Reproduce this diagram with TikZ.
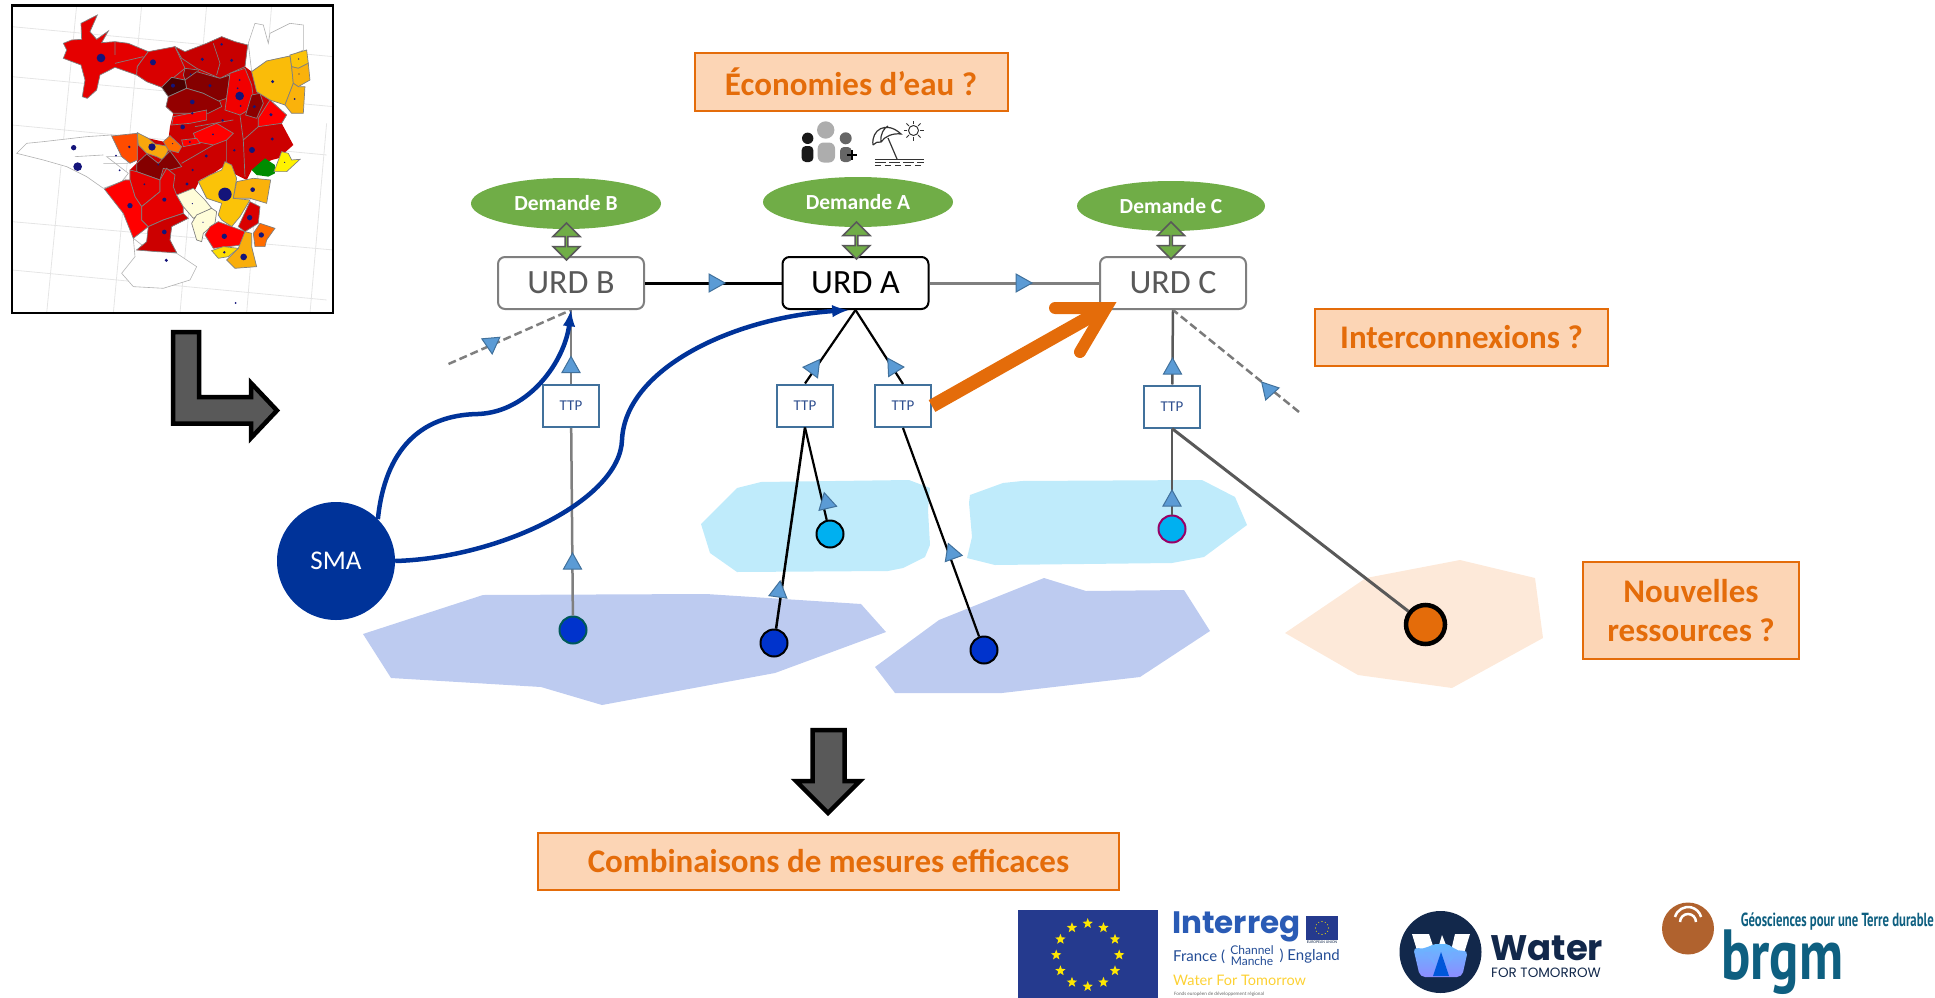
\documentclass[tikz,border=0pt]{standalone}
\usepackage{fontspec}
\setmainfont{Carlito}
\newfontfamily\logofont{Poppins}
\newfontfamily\logotext{Lato}
\newfontfamily\brgmfont{PT Sans}
\usepackage{tikz}
\usetikzlibrary{arrows}
\usetikzlibrary{shapes.geometric, shapes.arrows}
\definecolor{peachfill}{HTML}{FCD5B5}
\definecolor{orangeline}{HTML}{E46C0A}
\definecolor{greendem}{HTML}{70AD47}
\definecolor{bluesma}{HTML}{003399}
\definecolor{tipblue}{HTML}{5B9BD5}
\definecolor{tipedge}{HTML}{41719C}
\definecolor{ttptext}{HTML}{2F4F8F}
\definecolor{polydark}{HTML}{BDCBF0}
\definecolor{polylight}{HTML}{BFEBFB}
\definecolor{polypeach}{HTML}{FDE9D9}
\definecolor{welldark}{HTML}{0033CC}
\definecolor{welllight}{HTML}{00B0F0}
\definecolor{greyline}{HTML}{7F7F7F}
\definecolor{greytext}{HTML}{595959}
\definecolor{navylogo}{HTML}{12284B}
\definecolor{navydot}{HTML}{14147A}
\definecolor{eublue}{HTML}{253A8E}
\definecolor{interblue}{HTML}{2A5BB5}
\definecolor{brgmblue}{HTML}{0E5F80}
\definecolor{brgmbrown}{HTML}{B0622E}
\tikzstyle{question}=[draw=orangeline, fill=peachfill, text=orangeline, line width=2, inner sep=0, align=center, font=\fontsize{33}{39}\selectfont\bfseries]
\tikzstyle{demand}=[ellipse, fill=greendem, text=white, inner sep=0, font=\fontsize{21.5}{24}\selectfont\bfseries]
\tikzstyle{demarrow}=[double arrow, draw=greytext, fill=greendem, line width=1.5, inner sep=0, minimum width=27, minimum height=37, double arrow head extend=7, rotate=90]
\tikzstyle{urd}=[draw=greyline, rounded corners=7, fill=white, text=greytext, line width=2, minimum width=146, minimum height=52, inner sep=0, font=\fontsize{34}{40}\selectfont]
\tikzstyle{ttp}=[draw=tipedge, fill=white, text=ttptext, line width=2, minimum width=56, minimum height=42, inner sep=0, font=\fontsize{15}{18}\selectfont]
\tikzstyle{well}=[circle, draw=black, line width=2, minimum size=27, inner sep=0]
\tikzstyle{flowtip}=[draw=tipedge, fill=tipblue, line width=1]
\tikzstyle{bigarrow}=[draw=black, fill=greytext, line width=4.5, miter limit=10]
\tikzstyle{region}=[draw=black!50, line width=.7]
\tikzstyle{outline}=[draw=black!30, line width=.6]
\newcommand{\flowmark}[3]{\filldraw[flowtip, shift={(#1,#2)}, rotate=#3] (8pt,0pt) -- (-8pt,9pt) -- (-8pt,-9pt) -- cycle;}
\begin{document}
\begin{tikzpicture}[x=1pt, y=-1pt]
    \useasboundingbox (0,0) rectangle (1935,998);
    % map
    \begin{scope}[x=.3333pt, y=-.3333pt]
    \foreach \a/\b/\c/\d in {230/16/140/940, 425/16/340/940, 620/16/540/940, 815/16/740/940, 980/370/930/940, 36/80/1000/170, 36/230/1000/320, 36/375/980/465, 36/665/1000/750, 36/810/980/900}
        \draw[black!10, line width=.8] (\a,\b) -- (\c,\d);
    \filldraw[outline, fill=white] plot coordinates {(745,130) (765,70) (790,75) (805,130) (810,100) (870,70) (910,75) (910,150) (870,168) (800,183) (755,215)} -- cycle;
    \filldraw[outline, fill=white] plot coordinates {(50,460) (80,430) (130,425) (260,410) (335,405) (365,470) (320,470) (385,520) (365,545) (310,565) (260,530) (200,500) (130,480)} -- cycle;
    \draw[outline] (225,470) -- (310,465) (310,490) -- (385,490);
    \filldraw[outline, fill=white] plot coordinates {(400,715) (405,770) (365,820) (400,860) (490,865) (570,840) (590,800) (530,760) (445,750)} -- cycle;
    \fill[red!80!black] plot coordinates {(445,155) (525,140) (555,155) (620,130) (665,110) (705,125) (743,135) (735,200) (755,215) (770,275) (810,300) (860,345) (845,370) (880,435) (835,475) (815,480) (755,510) (740,540) (700,520) (685,490) (640,520) (600,540) (585,570) (550,585) (530,585) (535,610) (550,640) (565,655) (515,680) (510,720) (530,758) (410,750) (440,725) (445,680) (425,660) (425,620) (405,590) (390,540) (390,510) (410,490) (412,480) (412,400) (445,415) (490,425) (505,420) (510,380) (520,340) (498,320) (505,290) (485,262) (440,245) (410,225) (412,200) (430,175)} -- cycle;
    \filldraw[region, fill=red!90!black] plot coordinates {(190,130) (215,120) (245,118) (243,70) (292,45) (270,95) (290,118) (325,93) (305,128) (345,125) (385,130) (445,155) (430,175) (412,200) (410,225) (345,202) (300,225) (290,270) (262,295) (247,290) (255,240) (243,195) (190,175) (200,150)} -- cycle;
    \draw[region] (345,125) -- (345,165) (345,190) -- (430,170);
    \filldraw[region, fill=red!85!black] plot coordinates {(445,155) (525,140) (555,205) (485,262) (440,245) (410,225) (412,200) (430,175)} -- cycle;
    \filldraw[region, fill=red!78!black] plot coordinates {(525,140) (545,175) (590,205) (660,235) (690,220) (735,200) (743,135) (705,125) (665,110) (620,130) (555,155)} -- cycle;
    \draw[region] (640,130) -- (660,190) -- (650,225);
    \filldraw[region, fill=red!55!black] plot coordinates {(555,205) (595,210) (590,235) (555,240) (550,225)} -- cycle;
    \filldraw[region, fill=red!52!black] plot coordinates {(555,240) (590,215) (660,235) (690,225) (680,295) (650,305) (610,280) (560,265)} -- cycle;
    \filldraw[region, fill=red!30!black] plot coordinates {(485,262) (515,232) (555,240) (560,265) (505,290)} -- cycle;
    \filldraw[region, fill=red!58!black] plot coordinates {(505,290) (560,265) (610,280) (660,305) (665,320) (625,340) (520,340) (498,320)} -- cycle;
    \filldraw[region, fill=red!95!black] plot coordinates {(690,220) (735,205) (755,255) (760,290) (745,330) (720,345) (675,330) (680,295)} -- cycle;
    \filldraw[region, fill=red!55!black] plot coordinates {(755,285) (780,280) (790,310) (770,355) (737,345)} -- cycle;
    \filldraw[region, fill=yellow!75!red] plot coordinates {(755,215) (800,183) (870,168) (875,200) (880,250) (855,315) (810,300) (770,275)} -- cycle;
    \filldraw[region, fill=yellow!78!red] plot coordinates {(870,165) (920,150) (925,190) (895,205) (875,200)} -- cycle;
    \filldraw[region, fill=yellow!70!red] plot coordinates {(875,200) (895,205) (925,190) (930,240) (895,260) (880,250)} -- cycle;
    \filldraw[region, fill=yellow!70!red] plot coordinates {(880,250) (895,260) (915,260) (910,340) (875,340) (855,315)} -- cycle;
    \filldraw[region, fill=red] plot coordinates {(775,355) (810,300) (860,345) (845,370) (775,380)} -- cycle;
    \filldraw[region, fill=red!95!black] plot coordinates {(520,350) (620,330) (620,360) (570,370) (515,375)} -- cycle;
    \filldraw[region, fill=red] plot coordinates {(580,400) (650,370) (700,400) (680,420) (640,435) (590,425)} -- cycle;
    \filldraw[region, fill=red] plot coordinates {(545,420) (590,415) (600,430) (550,440)} -- cycle;
    \draw[region] (680,420) -- (680,490) (720,345) -- (730,420) -- (735,530) (545,490) -- (640,435) (585,380) -- (700,360) (775,380) -- (730,420);
    \filldraw[region, fill=orange!60!red] plot coordinates {(335,408) (412,400) (412,480) (390,490) (365,470)} -- cycle;
    \filldraw[region, fill=yellow!65!red] plot coordinates {(412,398) (445,415) (465,432) (510,440) (490,480) (470,470) (440,460) (415,435)} -- cycle;
    \filldraw[region, fill=orange!85!red] plot coordinates {(490,425) (510,407) (545,440) (535,458) (505,450)} -- cycle;
    \filldraw[region, fill=red!52!black] plot coordinates {(410,490) (440,462) (475,490) (510,453) (545,500) (510,510) (490,505) (480,540) (410,515)} -- cycle;
    \filldraw[region, fill=red!90!black] plot coordinates {(390,510) (410,515) (480,540) (480,575) (425,620) (405,590) (390,540)} -- cycle;
    \filldraw[region, fill=red] plot coordinates {(313,567) (375,540) (390,540) (405,590) (425,620) (425,660) (445,680) (400,715) (370,640)} -- cycle;
    \filldraw[region, fill=red!90!black] plot coordinates {(425,660) (425,620) (480,575) (480,540) (500,505) (525,525) (520,560) (530,585) (550,620) (550,640) (490,660) (445,680)} -- cycle;
    \filldraw[region, fill=red!80!black] plot coordinates {(445,680) (490,660) (550,640) (565,655) (515,680) (510,720) (530,758) (470,755) (410,750) (440,725)} -- cycle;
    \filldraw[region, fill=yellow!15] plot coordinates {(530,585) (580,565) (615,600) (635,625) (580,655) (550,620)} -- cycle;
    \filldraw[region, fill=yellow!15] plot coordinates {(575,670) (590,645) (635,625) (650,635) (645,670) (610,700) (605,725) (590,720)} -- cycle;
    \filldraw[region, fill=yellow!78!red] plot coordinates {(595,545) (630,525) (665,510) (675,485) (695,495) (710,535) (700,595) (750,600) (720,650) (695,680) (665,660) (655,645) (665,610) (650,605) (620,595)} -- cycle;
    \filldraw[region, fill=yellow!70!red] plot coordinates {(710,545) (760,535) (812,540) (800,610) (750,595) (700,595)} -- cycle;
    \filldraw[region, fill=red!85!black] plot coordinates {(715,680) (750,605) (780,620) (775,670) (735,695)} -- cycle;
    \filldraw[region, fill=red] plot coordinates {(615,705) (630,680) (655,665) (695,680) (735,695) (725,735) (685,740) (640,745)} -- cycle;
    \filldraw[region, fill=orange!85!red] plot coordinates {(760,700) (780,670) (825,685) (800,720) (795,740) (765,740)} -- cycle;
    \filldraw[region, fill=yellow!68!red] plot coordinates {(735,695) (755,700) (755,740) (770,800) (705,805) (680,780) (715,745)} -- cycle;
    \filldraw[region, fill=yellow!90!red] plot coordinates {(635,752) (670,740) (715,745) (685,770) (655,775)} -- cycle;
    \fill[green!55!black] plot coordinates {(755,510) (795,475) (825,495) (825,520) (805,530) (770,525)} -- cycle;
    \filldraw[region, fill=yellow] plot coordinates {(822,515) (845,455) (865,460) (875,480) (900,478) (860,515)} -- cycle;
    \foreach \a/\b/\r in {303/174/13, 459/187/9, 607/178/5, 695/181/5, 665/133/4, 572/223/3, 519/257/6, 630/257/5, 719/240/3, 713/265/3, 719/288/13, 722/318/3, 763/320/5, 577/306/7, 577/340/4, 813/344/5, 668/361/4, 548/381/7, 818/245/5, 896/177/2, 897/222/2, 884/297/3, 639/403/3, 817/417/5, 570/426/3, 703/451/4, 756/450/9, 388/441/4, 456/441/11, 518/431/2, 221/443/8, 348/467/3, 233/500/13, 359/511/3, 475/494/3, 619/468/5, 578/510/4, 433/553/3, 561/552/5, 854/487/2, 675/583/20, 758/569/7, 577/611/2, 390/617/8, 493/599/6, 609/667/2, 749/653/8, 493/696/7, 673/709/8, 784/705/8, 673/757/4, 731/771/10, 499/781/5, 707/909/3}
        \fill[navydot] (\a,\b) circle (\r*.3333pt);
    \end{scope}
    \draw[black, line width=2.5] (12,5.5) rectangle (333,313);
    % big arrows
    \draw[bigarrow] (173,332) -- (199,332) -- (199,397) -- (251,397) -- (251,383) -- (277,410.5) -- (251,438) -- (251,423.5) -- (173,423.5) -- cycle;
    \draw[bigarrow] (812.5,730) -- (844.5,730) -- (844.5,781) -- (860,781) -- (828,813) -- (796,781) -- (812.5,781) -- cycle;
    % aquifers
    \fill[polydark] (363,634) -- (483,595) -- (706,594) -- (861,604) -- (886,632) -- (775,673) -- (602,705) -- (541,687) -- (391,678) -- cycle;
    \fill[polydark] (875,667) -- (939,620) -- (1044,578) -- (1086,591) -- (1184,590) -- (1210,631) -- (1140,677) -- (1002,693) -- (895,693) -- cycle;
    \fill[polylight] (701,524) -- (737,488) -- (761,482) -- (909,480) -- (930,488) -- (928,510) -- (930,545) -- (925,557) -- (903,568) -- (888,571) -- (737,572) -- (710,553) -- cycle;
    \fill[polylight] (970,495) -- (1003,483) -- (1022,481) -- (1202,480) -- (1235,497) -- (1247,525) -- (1204,557) -- (1172,563) -- (995,565) -- (967,558) -- (972,537) -- (969,503) -- cycle;
    \fill[polypeach] (1285,633) -- (1366,578) -- (1460,560) -- (1535,578) -- (1543,638) -- (1452,688) -- (1358,675) -- cycle;
    % boxes
    \node[question, minimum width=313, minimum height=58] (eau) at (851,82) {Économies d’eau ?};
    \node[question, minimum width=293, minimum height=57] (inter) at (1461.5,337.5) {Interconnexions ?};
    \node[question, minimum width=216, minimum height=97] (nouv) at (1691,610.5) {Nouvelles\\ressources ?};
    \node[question, minimum width=581, minimum height=57] (combi) at (828.5,861.5) {Combinaisons de mesures efficaces};
    % demand
    \node[demand, minimum width=190, minimum height=51] (demB) at (566,203.5) {Demande B};
    \node[demand, minimum width=190, minimum height=50] (demA) at (858,202) {Demande A};
    \node[demand, minimum width=188, minimum height=50] (demC) at (1171,206) {Demande C};
    \node[urd] (urdB) at (571,283) {URD B};
    \node[urd, draw=black, text=black] (urdA) at (855.5,283) {URD A};
    \node[urd] (urdC) at (1173,283) {URD C};
    \node[demarrow] (arrB) at (566.5,241.5) {};
    \node[demarrow] (arrA) at (856.5,240.5) {};
    \node[demarrow] (arrC) at (1171,240.5) {};
    \node[ttp] (ttpB) at (571,406) {TTP};
    \node[ttp] (ttpAa) at (805,405.5) {TTP};
    \node[ttp] (ttpAb) at (903,406) {TTP};
    \node[ttp] (ttpC) at (1172,406.5) {TTP};
    \node[well, fill=welldark, draw=teal!70!black] (wellB) at (573,630) {};
    \node[well, fill=welldark] (wellAa) at (774,643) {};
    \node[well, fill=welldark] (wellAb) at (984,650) {};
    \node[well, fill=welllight] (wellAc) at (830,534) {};
    \node[well, fill=welllight, draw=violet!80!red] (wellC) at (1172,529) {};
    \node[well, fill=orangeline, line width=4.5, minimum size=39] (wellN) at (1425.5,624.5) {};
    \coordinate (dashB) at (448.5,364);
    \coordinate (dashC) at (1299,412);
    \coordinate (orangetip) at (1104,309);
    % connectors
    \draw[black, line width=3] (urdB) -- (urdA);
    \draw[greyline, line width=3] (urdA) -- (urdC);
    \draw[greyline, line width=2] (ttpB) -- (urdB.south);
    \draw[greyline, line width=2.5] (wellB) -- (ttpB);
    \draw[black, line width=2.2] (ttpAa.north) -- (urdA.south);
    \draw[black, line width=2.2] (ttpAb.north) -- (urdA.south);
    \draw[black, line width=2.5] (wellAa) -- (ttpAa.south);
    \draw[black, line width=2.2] (wellAc) -- (ttpAa.south);
    \draw[black, line width=2.2] (wellAb) -- (ttpAb.south);
    \draw[greytext, line width=2.5] (ttpC) -- (urdC.south);
    \draw[greytext, line width=2.5] (wellC) -- (ttpC);
    \draw[greytext, line width=3] (ttpC.south) -- (wellN);
    \draw[greyline, line width=2.5, dash pattern=on 8pt off 4pt] (dashB) -- (urdB.south);
    \draw[greytext!80, line width=2.5, dash pattern=on 8pt off 4pt] (dashC) -- (urdC.south);
    % flow marks
    \flowmark{717}{283}{0}
    \flowmark{1024}{283}{0}
    \flowmark{571}{364.5}{90}
    \flowmark{815}{366}{54}
    \flowmark{892}{365}{122}
    \flowmark{1172.5}{366}{90}
    \flowmark{572.5}{561}{90}
    \flowmark{779}{589}{82}
    \flowmark{826}{500.5}{103}
    \flowmark{951}{551}{110}
    \flowmark{1172}{498}{90}
    \flowmark{491.5}{346}{-85}
    \flowmark{1267}{388}{132}
    % SMA
    \node[circle, fill=bluesma, text=white, minimum size=118, inner sep=0, font=\fontsize{27}{32}\selectfont] (sma) at (336,561) {SMA};
    \draw[bluesma, line width=4.5, -latex] (sma.45) .. controls (385,450) and (420,415) .. (478,414) .. controls (530,412) and (565,360) .. (urdB.south);
    \draw[bluesma, line width=4.5, -latex] (sma.east) .. controls (500,558) and (620,500) .. (622,440) .. controls (625,370) and (730,318) .. ([xshift=-7pt]urdA.south);
    % new link
    \draw[orangeline, line width=13.5] (ttpAb.east) -- (orangetip);
    \draw[orangeline, line width=12, line cap=round, miter limit=10] (1055,308) -- (1106,308) -- (1080,352);
    % icons
    \fill[black!90] (807.7,138.3) circle (5.7pt);
    \fill[black!90, rounded corners=4] (801.7,162) rectangle (813.3,146);
    \fill[black!32] (825.7,130) circle (8.7pt);
    \fill[black!32, rounded corners=6] (817.7,162.5) rectangle (835,142.5);
    \fill[black!60] (845.7,138.3) circle (6pt);
    \fill[black!60, rounded corners=4] (840,162) rectangle (851.7,147);
    \draw[black, line width=1.8] (847,155) -- (857,155) (852,150) -- (852,160);
    \draw[black!80, line width=1.2] (873,145) .. controls (871,130) and (886,120) .. (901,134) .. controls (893,133) and (885,136) .. (881,142) .. controls (878,141) and (875,143) .. (873,145) (881,142) .. controls (880,134) and (884,128) .. (888,126) (888,138) -- (897,159);
    \draw[black!80, line width=1.2] (875,159.5) -- (924,159.5);
    \draw[black!80, line width=1.5, dash pattern=on 11pt off 3pt] (875,162.5) -- (924,162.5);
    \draw[black!80, line width=1.5, dash pattern=on 6pt off 4pt] (875,165.5) -- (924,165.5);
    \draw[black!80, line width=1] (913.5,130.5) circle (5pt);
    \foreach \t in {0,45,...,315}
        \draw[black!80, line width=1] (913.5,130.5) ++(\t:6.5pt) -- ++(\t:3.5pt);
    % logos
    \fill[eublue] (1018,910) rectangle (1158,998);
    \foreach \t in {0,30,...,330}
        \node[star, star points=5, star point ratio=2.4, fill=yellow!90!orange, inner sep=0, minimum size=11] (eu\t) at ([shift={(\t:31.5pt)}]1087.7,955) {};
    \node[inner sep=0, anchor=west, text=interblue, font=\fontsize{31}{36}\selectfont\logofont\bfseries] (interreg) at (1172,927) {Interreg};
    \fill[eublue] (1306,916) rectangle (1338,940);
    \foreach \t in {0,30,...,330}
        \fill[yellow!90!orange] ([shift={(\t:6.5pt)}]1322,928) circle (.6pt);
    \node[inner sep=0, text=navylogo, font=\fontsize{4}{5}\selectfont] (euunion) at (1322,942) {EUROPEAN UNION};
    \node[inner sep=0, anchor=west, text=interblue!70!navylogo, font=\fontsize{15}{18}\selectfont\logotext] (france) at (1173,956.5) {France (};
    \node[inner sep=0, text=interblue!70!navylogo, font=\fontsize{12}{15}\selectfont\logotext] (channel) at (1252,950.5) {Channel};
    \node[inner sep=0, text=interblue!70!navylogo, font=\fontsize{12}{15}\selectfont\logotext] (manche) at (1252,961.5) {Manche};
    \node[inner sep=0, anchor=east, text=interblue!70!navylogo, font=\fontsize{15}{18}\selectfont\logotext] (england) at (1340,956.5) {) England};
    \node[inner sep=0, anchor=west, text=yellow!60!orange!80!white, font=\fontsize{14.5}{18}\selectfont\logotext] (wft) at (1173,980) {Water For Tomorrow};
    \node[inner sep=0, anchor=west, text=black!60, font=\fontsize{5}{6}\selectfont] (fonds) at (1174,994) {Fonds européen de développement régional};
    \fill[navylogo] (1440.5,952) circle (41pt);
    \fill[white] (1412,934) -- (1429,934) -- (1436,955) -- (1442,935) -- (1450,955) -- (1455,934) -- (1470,934) -- (1462,960) -- (1420,960) -- cycle;
    \shade[top color=cyan!55!blue!60, bottom color=blue!45!white, rounded corners=5] (1413,947) .. controls (1425,950) and (1432,944) .. (1441,944) .. controls (1450,944) and (1456,952) .. (1468,950) -- (1462,977) -- (1420,977) -- cycle;
    \fill[blue!60!cyan!85!black] (1433,976) -- (1441,952) -- (1449,976) -- cycle;
    \fill[blue!60!cyan!55] (1424,952) -- (1431,952) -- (1436,966) -- cycle (1452,952) -- (1459,952) -- (1446,966) -- cycle;
    \node[inner sep=0, anchor=west, text=navylogo, font=\fontsize{35.5}{40}\selectfont\logofont\bfseries] (water) at (1490,948) {Water};
    \node[inner sep=0, anchor=west, text=navylogo, font=\fontsize{13.5}{16}\selectfont\logofont] (tomorrow) at (1491,973) {FOR TOMORROW};
    \fill[brgmbrown] (1688,928.5) circle (26pt);
    \draw[white, line width=2.5] (1680,922) arc (180:0:8pt) (1675,917) arc (165:15:13.5pt);
    \node[inner sep=0, anchor=east, text=brgmblue, font=\fontsize{19}{22}\selectfont\brgmfont\bfseries] (geo) at (1934,922) {\scalebox{.67}[1]{Géosciences pour une Terre durable}};
    \node[inner sep=0, anchor=west, text=brgmblue, font=\fontsize{71}{80}\selectfont\brgmfont\bfseries] (brgm) at (1721,962) {\scalebox{.77}[1]{brgm}};
\end{tikzpicture}
\end{document}
